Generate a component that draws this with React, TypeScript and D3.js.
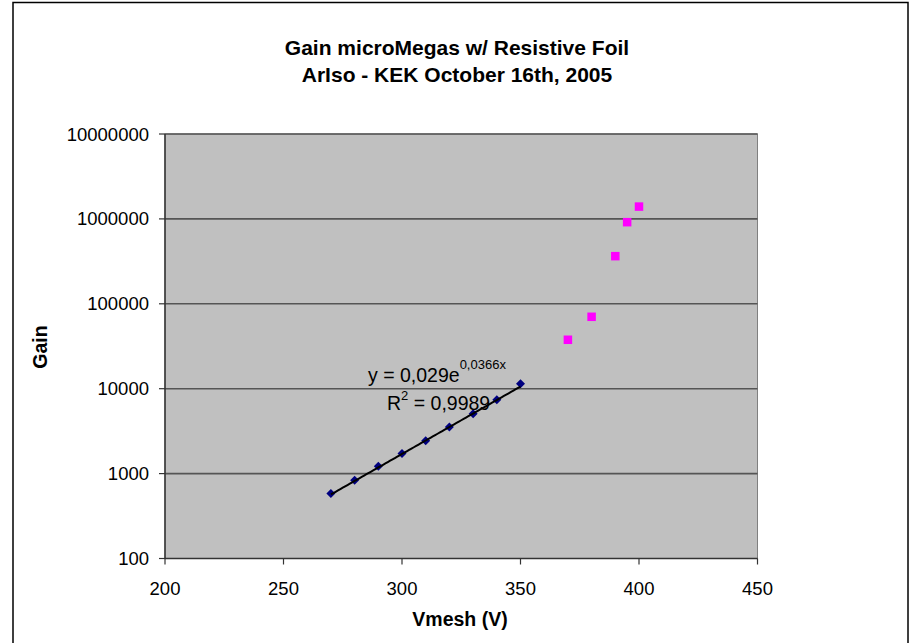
import React from "react";
import * as d3 from "d3";

const blueX = [270, 280, 290, 300, 310, 320, 330, 340, 350];
const blueY = [582, 834, 1220, 1720, 2440, 3540, 5080, 7420, 11450];
const pinkX = [370, 380, 390, 395, 400];
const pinkY = [37700, 70300, 364000, 915000, 1396000];
const xTicks = [200, 250, 300, 350, 400, 450];
const yTicks = [100, 1000, 10000, 100000, 1000000, 10000000];
const trendA = 0.029;
const trendB = 0.0366;
const trendRange = [270, 350];

const W = 914;
const H = 643;
const plot = { left: 165, right: 757.5, top: 134, bottom: 558.5 };

export default function App() {
  const x = d3.scaleLinear().domain([200, 450]).range([plot.left, plot.right]);
  const y = d3.scaleLog().domain([100, 10000000]).range([plot.bottom, plot.top]);
  const trendPts = d3.range(trendRange[0], trendRange[1] + 0.5, 1).map((v) => [v, trendA * Math.exp(trendB * v)] as [number, number]);
  const line = d3.line<[number, number]>().x((d) => x(d[0])).y((d) => y(d[1]));
  const font = "Arial, 'Liberation Sans', sans-serif";
  return (
    <svg width={W} height={H} style={{ position: "absolute", left: 0, top: 0 }} fontFamily={font}>
      <rect x={0} y={0} width={W} height={H} fill="#fff" />
      <rect x={13} y={2.5} width={895} height={660} fill="#fff" stroke="#000" strokeWidth={1.5} />
      <text x={457} y={55} textAnchor="middle" fontSize={21} fontWeight="bold">Gain microMegas w/ Resistive Foil</text>
      <text x={457} y={82} textAnchor="middle" fontSize={21} fontWeight="bold">ArIso - KEK October 16th, 2005</text>
      <rect x={plot.left} y={plot.top} width={plot.right - plot.left} height={plot.bottom - plot.top} fill="#c0c0c0" stroke="#808080" strokeWidth={1} />
      {yTicks.map((t) => (
        <g key={t}>
          {t > 100 && <line x1={plot.left} x2={plot.right} y1={y(t)} y2={y(t)} stroke="#555" strokeWidth={1.6} />}
          <line x1={plot.left - 6} x2={plot.left} y1={y(t)} y2={y(t)} stroke="#333" strokeWidth={1.2} />
          <text x={149} y={y(t) + 6.5} textAnchor="end" fontSize={18.5}>{t}</text>
        </g>
      ))}
      <line x1={plot.left} x2={plot.left} y1={plot.top} y2={plot.bottom} stroke="#333" strokeWidth={1.5} />
      <line x1={plot.left} x2={plot.right} y1={plot.bottom} y2={plot.bottom} stroke="#333" strokeWidth={1.5} />
      {xTicks.map((t) => (
        <g key={t}>
          <line x1={x(t)} x2={x(t)} y1={plot.bottom} y2={plot.bottom + 6} stroke="#333" strokeWidth={1.2} />
          <text x={x(t)} y={595} textAnchor="middle" fontSize={18.5}>{t}</text>
        </g>
      ))}
      <text x={460} y={626} textAnchor="middle" fontSize={19.5} fontWeight="bold">Vmesh (V)</text>
      <text transform="translate(47,347) rotate(-90)" textAnchor="middle" fontSize={19.5} fontWeight="bold">Gain</text>
      {blueX.map((v, i) => {
        const cx = x(v), cy = y(blueY[i]);
        return <path key={v} d={`M${cx},${cy - 4.5}L${cx + 4.5},${cy}L${cx},${cy + 4.5}L${cx - 4.5},${cy}Z`} fill="#000080" />;
      })}
      <path d={line(trendPts) || ""} fill="none" stroke="#000" strokeWidth={2} />
      {pinkX.map((v, i) => (
        <rect key={v} x={x(v) - 4.25} y={y(pinkY[i]) - 4.25} width={8.5} height={8.5} fill="#ff00ff" />
      ))}
      <text x={368} y={382} fontSize={19.5}>
        y = 0,029e<tspan dy={-13.5} fontSize={13}>0,0366x</tspan>
      </text>
      <text x={387} y={410} fontSize={19.5}>
        R<tspan dy={-10} fontSize={13}>2</tspan><tspan dy={10}> = 0,9989</tspan>
      </text>
    </svg>
  );
}
